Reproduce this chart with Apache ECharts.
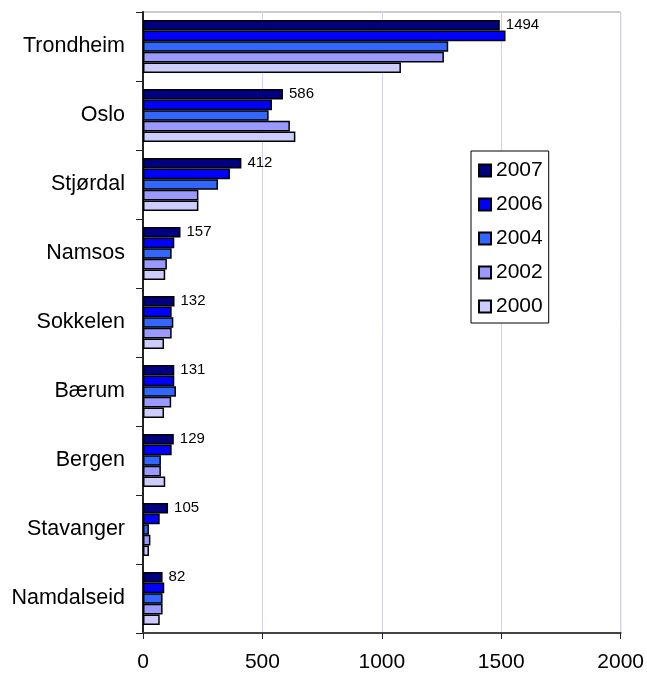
<!DOCTYPE html>
<html>
<head>
<meta charset="utf-8">
<script src="https://cdn.jsdelivr.net/npm/echarts@6/dist/echarts.min.js"></script>
<style>
html,body{margin:0;padding:0;background:#fff;}
#chart{width:647px;height:673px;}
</style>
</head>
<body>
<div id="chart"></div>
<script>
const categories = ['Trondheim','Oslo','Stjørdal','Namsos','Sokkelen','Bærum','Bergen','Stavanger','Namdalseid'];
const v2007 = [1494,586,412,157,132,131,129,105,82];
const v2006 = [1518,540,364,131,120,131,120,70,89];
const v2004 = [1278,526,314,120,127,138,75,25,82];
const v2002 = [1260,615,232,100,120,118,75,31,82];
const v2000 = [1080,638,232,93,88,88,93,25,70];
const seriesNames = ['2007','2006','2004','2002','2000'];
const seriesData = [v2007, v2006, v2004, v2002, v2000];
const colors = ['#000080','#0000FF','#3366FF','#9999FF','#CCCCFF'];
const xTicks = [0, 500, 1000, 1500, 2000];

const FONT = "'Liberation Sans', Arial, sans-serif";
const chart = echarts.init(document.getElementById('chart'));
const series = seriesNames.map((name, i) => ({
  name: name,
  type: 'bar',
  data: seriesData[i],
  barGap: '0%',
  barCategoryGap: '23%',
  itemStyle: { color: colors[i], borderColor: '#000', borderWidth: 1.5 },
  label: i === 0 ? {
    show: true, position: 'right', distance: 6,
    fontSize: 15, color: '#000', fontFamily: FONT
  } : { show: false },
  emphasis: { disabled: true },
  animation: false
}));

chart.setOption({
  animation: false,
  textStyle: { fontFamily: FONT },
  grid: { left: 143, right: 24, top: 12, bottom: 39, show: true, borderColor: '#999', borderWidth: 1, backgroundColor: 'transparent' },
  legend: {
    orient: 'vertical',
    left: 471, top: 151,
    data: seriesNames,
    itemWidth: 12, itemHeight: 12, itemGap: 13, itemTextGap: 9,
    padding: [9, 6, 6, 7],
    borderColor: '#000', borderWidth: 1, backgroundColor: '#fff',
    icon: 'rect',
    textStyle: { fontSize: 21, color: '#000', fontFamily: FONT },
    selectedMode: false
  },
  xAxis: {
    type: 'value', min: xTicks[0], max: xTicks[xTicks.length - 1], interval: 500,
    axisLine: { show: true, lineStyle: { color: '#444', width: 2 } },
    axisTick: { show: true, length: 6, lineStyle: { color: '#222' } },
    axisLabel: { fontSize: 21, color: '#000', margin: 19, fontFamily: FONT, formatter: v => String(v) },
    splitLine: { show: true, lineStyle: { color: '#d0d0f4', width: 1 } }
  },
  yAxis: {
    type: 'category', data: categories, inverse: true,
    axisLine: { show: true, lineStyle: { color: '#222', width: 2 } },
    axisTick: { show: true, length: 7, lineStyle: { color: '#222' } },
    axisLabel: { fontSize: 21.5, color: '#000', margin: 18, fontFamily: FONT },
    splitLine: { show: false }
  },
  series: series
});
</script>
</body>
</html>
